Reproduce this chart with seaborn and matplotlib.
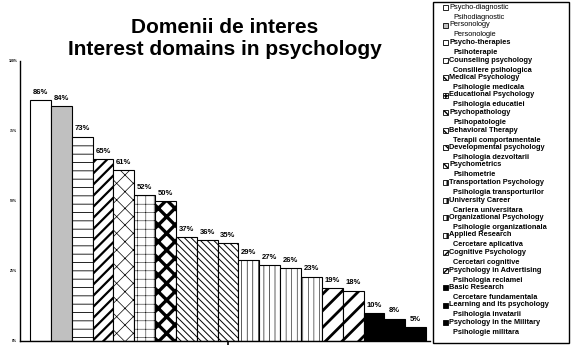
import matplotlib
matplotlib.use("Agg")
import matplotlib.pyplot as plt
from matplotlib.patches import Rectangle
import seaborn as sns
import pandas as pd

# === Data
domains_en = ["Psycho-diagnostic", "Personology", "Psycho-therapies", "Counseling psychology",
              "Medical Psychology", "Educational Psychology", "Psychopathology",
              "Behavioral Therapy", "Developmental psychology", "Psychometrics",
              "Transportation Psychology", "University Career", "Organizational Psychology",
              "Applied Research", "Cognitive Psychology", "Psychology in Advertising",
              "Basic Research", "Learning and its psychology", "Psychology in the Military"]
domains_ro = ["Psihodiagnostic", "Personologie", "Psihoterapie", "Consiliere psihologica",
              "Psihologie medicala", "Psihologia educatiei", "Psihopatologie",
              "Terapii comportamentale", "Psihologia dezvoltarii", "Psihometrie",
              "Psihologia transporturilor", "Cariera universitara", "Psihologie organizationala",
              "Cercetare aplicativa", "Cercetari cognitive", "Psihologia reclamei",
              "Cercetare fundamentala", "Psihologia invatarii", "Psihologie militara"]
percent = [86, 84, 73, 65, 61, 52, 50, 37, 36, 35, 29, 27, 26, 23, 19, 18, 10, 8, 5]
yticks = [0, 25, 50, 75, 100]
ytick_labels = ["0%", "25%", "50%", "75%", "100%"]

# === Styles
fills = ["white", "#c0c0c0", "white", "white", "white", "white", "white",
         "white", "white", "white", "white", "white", "white", "white",
         "white", "white", "black", "black", "black"]
hatches = ["", "", "--", "///", "xx", "++", "xx",
           "\\\\\\\\\\", "\\\\\\\\\\", "\\\\\\\\\\", "|||", "|||", "|||", "|||",
           "//", "//", "", "", ""]
hatch_lw = [1, 1, 0.6, 1.6, 0.5, 0.35, 2.4, 0.7, 0.7, 0.7, 0.45, 0.45, 0.4, 0.4,
            2.0, 2.0, 1, 1, 1]

df = pd.DataFrame({"domain": domains_en, "percent": percent})

sns.set_style("white")
plt.rcParams["font.family"] = ["Liberation Sans", "DejaVu Sans"]
plt.rcParams["text.color"] = "black"
plt.rcParams["xtick.color"] = "black"
plt.rcParams["ytick.color"] = "black"
plt.rcParams["axes.edgecolor"] = "black"

W, H = 575, 352
fig = plt.figure(figsize=(W / 100, H / 100), dpi=100)
ax = fig.add_axes([20 / W, 11 / H, 410 / W, 280 / H])

sns.barplot(data=df, x="domain", y="percent", color="white", width=1.0,
            edgecolor="black", linewidth=0.8, saturation=1, ax=ax)

for bar, fc, h, lw, v in zip(ax.patches, fills, hatches, hatch_lw, percent):
    bar.set_facecolor(fc)
    bar.set_hatch(h)
    if hasattr(bar, "set_hatch_linewidth"):
        bar.set_hatch_linewidth(lw)
    ax.annotate(f"{v}%", (bar.get_x() + bar.get_width() / 2, v),
                xytext=(0, 3), textcoords="offset points",
                ha="center", va="bottom", fontsize=5.5, fontweight="bold")

ax.set_ylim(0, 100)
ax.set_xlim(-0.98, 18.69)
ax.set_yticks(yticks)
ax.set_yticklabels(ytick_labels, fontsize=2.5, fontweight="bold")
ax.set_xticks([9])
ax.set_xticklabels([""])
ax.tick_params(axis="y", left=False, length=0, pad=2)
ax.tick_params(axis="x", bottom=True, length=3, width=1.2, direction="out")
ax.set_xlabel("")
ax.set_ylabel("")
for s in ["top", "right"]:
    ax.spines[s].set_visible(False)
for s in ["left", "bottom"]:
    ax.spines[s].set_linewidth(1)
    ax.spines[s].set_color("black")

ax.set_title("Domenii de interes\nInterest domains in psychology",
             fontsize=15, fontweight="bold", pad=4, linespacing=1.2, color="black")

# === Legend box
def fx(px):
    return px / W

def fy(py):
    return 1 - py / H

fig.add_artist(Rectangle((fx(433), fy(343)), fx(136), 341 / H, transform=fig.transFigure,
                         facecolor="white", edgecolor="black", linewidth=1))
for i, (en, ro) in enumerate(zip(domains_en, domains_ro)):
    y1 = 7.5 + 17.5 * i
    weight = "normal" if i < 2 else "bold"
    box = Rectangle((fx(442.5), fy(y1 + 2.5)), fx(5), 5 / H, transform=fig.transFigure,
                    facecolor=fills[i], edgecolor="black", linewidth=0.6, hatch=hatches[i])
    fig.add_artist(box)
    fig.text(fx(449), fy(y1), en, fontsize=5.3, fontweight=weight, va="center", ha="left")
    fig.text(fx(453), fy(y1 + 10), ro, fontsize=5.3, fontweight=weight, va="center", ha="left")

fig.savefig("out.png", dpi=100, facecolor="white")
